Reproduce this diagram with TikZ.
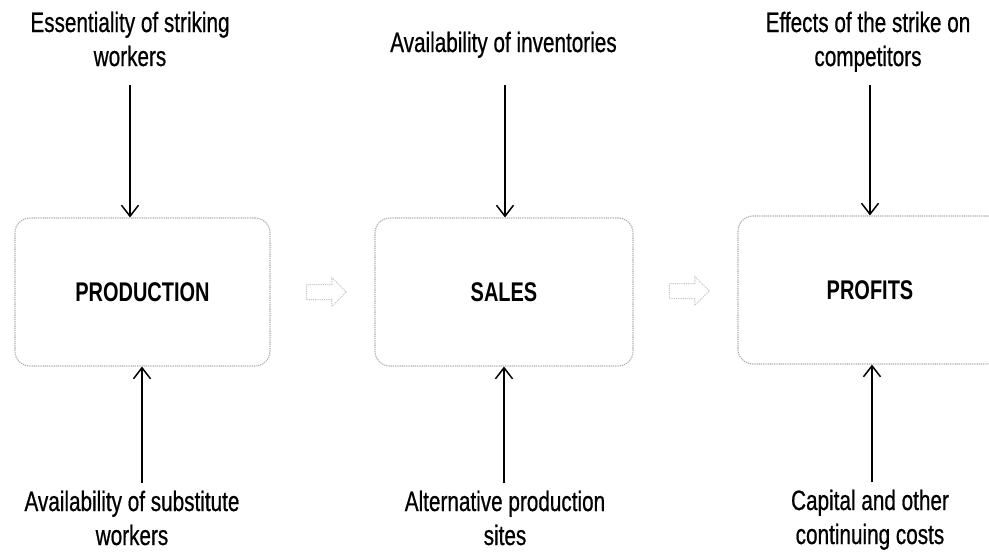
\documentclass[tikz,border=0pt]{standalone}
\usepackage{fontspec}
\setmainfont{Liberation Sans}[FakeStretch=0.74]
\newfontfamily\factorfont{Liberation Sans}[FakeStretch=0.74,FakeBold=0.6]
\usetikzlibrary{arrows.meta,shapes.arrows,calc}
\begin{document}
\begin{tikzpicture}[x=1pt,y=-1pt,
  lbl/.style={align=center,inner sep=0pt,font=\factorfont\fontsize{28}{34}\selectfont},
  stage/.style={draw=gray!62,line width=1.1pt,dash pattern=on 1.3pt off 0.9pt,
    rounded corners=15pt,minimum height=148pt,inner sep=0pt,
    font=\fontsize{27}{32}\selectfont\bfseries},
  push/.style={line width=1.5pt,-{Straight Barb[length=11pt,width=17pt]}},
  flow/.style={single arrow,draw=gray!45,line width=1pt,
    dash pattern=on 1.2pt off 1pt,minimum height=40pt,inner xsep=0pt,
    inner ysep=7pt,single arrow head extend=7pt}
]
\clip (0,0) rectangle (989,552);
\fill[white] (0,0) rectangle (989,552);

% the three stages
\node[stage,minimum width=255pt] (prod)  at (142.5,292) {PRODUCTION};
\node[stage,minimum width=258pt] (sales) at (504,292)   {SALES};
\node[stage,minimum width=264pt] (prof)  at (870,290)   {PROFITS};

% hollow arrows linking the stages
\node[flow] (f1) at ($(prod.east)!0.5!(sales.west)$) {};
\node[flow] (f2) at ($(sales.east)!0.5!(prof.west)$) {};

% factors acting from above (base = baseline of the last line)
\node[lbl,anchor=base] (t1) at (130,66) {Essentiality of striking\\workers};
\node[lbl,anchor=base] (t2) at (503.5,52) {Availability of inventories};
\node[lbl,anchor=base] (t3) at (868,66) {Effects of the strike on\\competitors};

% factors acting from below
\node[lbl,anchor=base] (u1) at (132,545) {Availability of substitute\\workers};
\node[lbl,anchor=base] (u2) at (505,545) {Alternative production\\sites};
\node[lbl,anchor=base] (u3) at (870,544) {Capital and other\\continuing costs};

% free ends of the vertical arrows
\coordinate (s1) at (130,85);
\coordinate (s2) at (505,85);
\coordinate (s3) at (870,85);
\coordinate (e1) at (142,483);
\coordinate (e2) at (504,483);
\coordinate (e3) at (872,482);

\draw[push] (s1) -- (s1 |- prod.north);
\draw[push] (s2) -- (s2 |- sales.north);
\draw[push] (s3) -- (s3 |- prof.north);
\draw[push] (e1) -- (e1 |- prod.south);
\draw[push] (e2) -- (e2 |- sales.south);
\draw[push] (e3) -- (e3 |- prof.south);
\end{tikzpicture}
\end{document}
